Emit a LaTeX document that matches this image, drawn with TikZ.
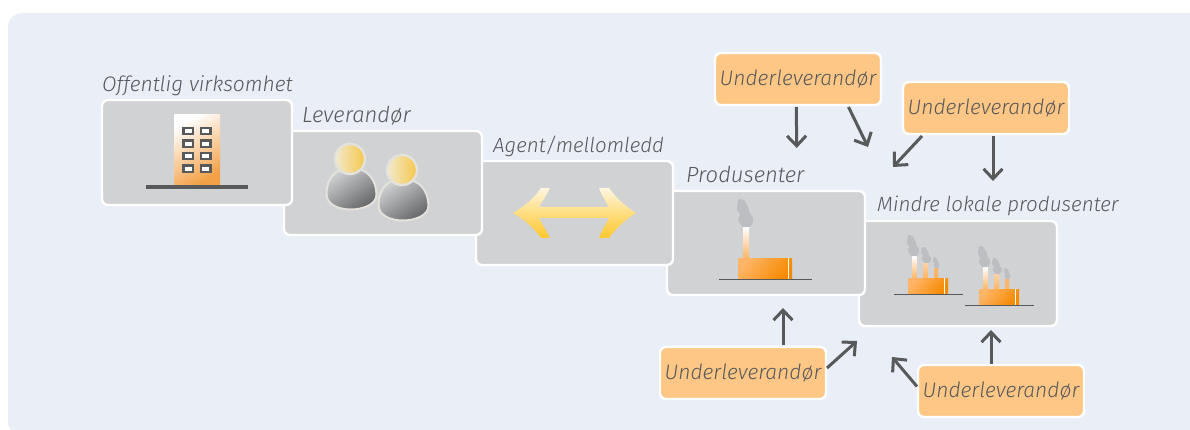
\documentclass[tikz,border=0pt]{standalone}
\usepackage{fontspec}
\setmainfont{Fira Sans Light}[ItalicFont={Fira Sans Light Italic}]
\usetikzlibrary{arrows.meta}
\definecolor{panel}{HTML}{EAEEF7}
\definecolor{boxgray}{HTML}{D1D2D4}
\definecolor{ink}{HTML}{58595B}
\definecolor{orangebox}{HTML}{FFC786}
\definecolor{smokegray}{HTML}{BDBEC2}
\definecolor{orangedark}{HTML}{F58A00}
\definecolor{orangelight}{HTML}{FFB568}
\definecolor{rimgray}{HTML}{E4E2DC}
\definecolor{headlight}{HTML}{F1E9CE}
\definecolor{headdark}{HTML}{F6C74A}
\definecolor{buildorange}{HTML}{F3A046}
\definecolor{bodydark}{HTML}{666769}
\definecolor{arrowtop}{HTML}{FFF6E0}
\definecolor{arrowmid}{HTML}{FFDD80}
\definecolor{arrowbot}{HTML}{FFC82E}
\tikzset{
  graybox/.style={draw=white,line width=2.4pt,fill=boxgray,rounded corners=6pt,anchor=north west,inner sep=0pt,outer sep=0pt},
  subbox/.style={draw=white,line width=2.4pt,fill=orangebox,rounded corners=6pt,anchor=north west,inner sep=0pt,outer sep=0pt,
     minimum width=166pt,minimum height=52pt,text=ink,font=\fontsize{21}{24}\selectfont\itshape},
  lbl/.style={anchor=base west,inner sep=0pt,text=ink,font=\fontsize{#1}{24}\selectfont\itshape},
  flow/.style={draw=ink,line width=3pt,-{Straight Barb[length=10pt,width=19pt,line width=3pt]}},
}
\newcommand{\smokeat}[4]{% x y w h
  \fill[smokegray,shift={(#1,#2)},x=#3pt,y=-#4pt] plot[smooth cycle,tension=0.5] coordinates
   {(.12,0) (.45,.05) (.6,.2) (.75,.35) (.78,.5) (.98,.65) (1,.8) (.85,.97) (.4,1) (.15,.85) (.08,.7) (.2,.55) (0,.4) (.03,.2)};}
\newcommand{\chimney}[5]{% x1 x2 ytop ybot topcolor
  \shade[top color=#5,bottom color=orangelight] (#1,#3) rectangle (#2,#4);}
\newcommand{\bigbody}[4]{% x1 y1 x2 y2
  \shade[top color=orangelight,bottom color=orangedark,shading angle=50] (#1,#2) rectangle (#3,#4);
  \fill[white] (#3-4,#2) rectangle (#3-3,#4);}
\newcommand{\smallfactory}[2]{% dx dy
  \begin{scope}[shift={(#1,#2)}]
    \chimney{912}{916.5}{256}{278}{white}
    \chimney{923}{928}{263}{278}{orangelight!60!white}
    \chimney{934}{938}{268}{278}{orangelight}
    \smokeat{907}{235}{12}{21}
    \smokeat{921}{247}{10}{16}
    \smokeat{933}{257}{6.5}{11}
    \bigbody{908}{278}{948}{294}
    \draw[ink,line width=1.2pt] (894,294.5) -- (963,294.5);
  \end{scope}}
\begin{document}
\begin{tikzpicture}[x=1pt,y=-1pt]
\useasboundingbox (0,0) rectangle (1190,430);
\fill[white] (0,0) rectangle (1190,430);
\fill[panel] (1190,13) -- (22,13) .. controls (14,13) and (8,19) .. (8,27) -- (8,422) .. controls (8,426) and (9,429) .. (12,430) -- (1190,430) -- cycle;

% gray boxes, back to front
\node[graybox,minimum width=198pt,minimum height=105pt] (small) at (859,221) {};
\node[graybox,minimum width=198pt,minimum height=104pt] (prod) at (667,191) {};
\node[graybox,minimum width=197pt,minimum height=104pt] (agent) at (476,161) {};
\node[graybox,minimum width=198pt,minimum height=104pt] (lev) at (284,131) {};
\node[graybox,minimum width=190pt,minimum height=105pt] (off) at (102,100) {};

% labels
\node[lbl=21] (toff) at (102,92) {Offentlig virksomhet};
\node[lbl=22] (tlev) at (302,123) {Leverandør};
\node[lbl=20.5] (tagent) at (493,153) {Agent/mellomledd};
\node[lbl=22] (tprod) at (686,183) {Produsenter};
\node[lbl=20.6] (tsmall) at (877,212) {Mindre lokale produsenter};

% building
\shade[top color=white,bottom color=buildorange,shading angle=30] (174,115) rectangle (220,185);
\fill[ink] (146,185) rectangle (248,189);
\foreach \wy in {128,140.5,153,165.5}{
  \foreach \wx in {183.3,200.7}{
    \draw[ink,line width=2.4pt,fill=white] (\wx,\wy) rectangle ++(9.8,6.3);
  }
}

% persons
\foreach \dx/\dy in {0/0,52/11}{
  \begin{scope}[shift={(\dx,\dy)}]
    \draw[rimgray,line width=2pt,top color=boxgray,bottom color=bodydark,shading angle=35] (326.5,193)
      .. controls (327,178) and (335,168) .. (351,168)
      .. controls (368,168) and (376,180) .. (376.5,194)
      .. controls (377,205) and (362,209.5) .. (351,209.5)
      .. controls (339,209.5) and (326,205) .. (326.5,193) -- cycle;
    \draw[rimgray,line width=2.4pt,left color=headlight,right color=headdark] (350,159) circle[radius=15];
  \end{scope}
}

% double arrow
\shade[top color=arrowtop,bottom color=arrowbot,middle color=arrowmid]
  (513,213) .. controls (525,206) and (534,198) .. (541,188) -- (550,188)
  .. controls (546,196) and (542,202) .. (539,207) -- (609,207)
  .. controls (606,202) and (602,196) .. (599,188) -- (609,188)
  .. controls (616,198) and (625,206) .. (636,213)
  .. controls (625,220) and (616,228) .. (609,238) -- (599,238)
  .. controls (602,230) and (606,224) .. (609,218) -- (539,218)
  .. controls (542,224) and (546,230) .. (550,238) -- (541,238)
  .. controls (534,228) and (525,220) .. (513,213) -- cycle;

% big factory
\chimney{743}{749}{227}{258}{white}
\smokeat{737}{199}{16}{28}
\bigbody{738}{258}{792}{279}
\draw[ink,line width=1.2pt] (719,279.5) -- (812,279.5);

% small factories
\smallfactory{0}{0}
\smallfactory{71}{11}

% suppliers
\node[subbox] (a) at (715,53) {Underleverandør};
\node[subbox] (b) at (903,82) {Underleverandør};
\node[subbox] (c) at (660,347) {Underleverandør};
\node[subbox] (d) at (918,365) {Underleverandør};

% arrow ends
\coordinate (ta1) at (796.7,148);
\coordinate (ta2) at (868,147);
\coordinate (tb1) at (893,167);
\coordinate (tb2) at (993,181);
\coordinate (tc1) at (783,308);
\coordinate (tc2) at (857,341);
\coordinate (td1) at (892,357);
\coordinate (td2) at (991,330);

\draw[flow] ([shift={(-1.7,2)}]a.south) -- (ta1);
\draw[flow] ([shift={(50.5,2)}]a.south) -- (ta2);
\draw[flow] ([shift={(-64,2)}]b.south) -- (tb1);
\draw[flow] ([shift={(7,2)}]b.south) -- (tb2);
\draw[flow] ([shift={(40,-2)}]c.north) -- (tc1);
\draw[flow] ([shift={(1,-5)}]c.east) -- (tc2);
\draw[flow] ([shift={(-1,-4.5)}]d.west) -- (td1);
\draw[flow] ([shift={(-10,-1)}]d.north) -- (td2);
\end{tikzpicture}
\end{document}
